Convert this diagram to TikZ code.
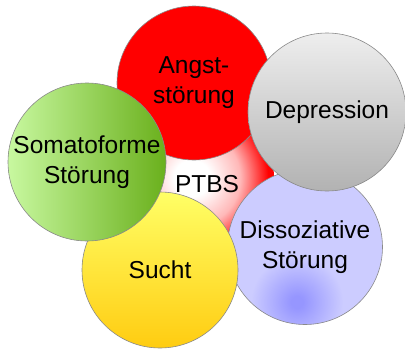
\documentclass[tikz,border=0pt]{standalone}
\usepackage{fontspec}
\setmainfont{Liberation Sans}
\usepackage{tikz}
\usetikzlibrary{positioning}

\definecolor{rimgray}{HTML}{8A8A8A}
\definecolor{angstred}{HTML}{FF0000}
\definecolor{ptbspink}{HTML}{FFB8B8}
\definecolor{deprtop}{HTML}{EEEEEE}
\definecolor{deprbot}{HTML}{B2B2B2}
\definecolor{somaleft}{HTML}{C8F8A0}
\definecolor{somaright}{HTML}{6AB01C}
\definecolor{suchttop}{HTML}{FFFF66}
\definecolor{suchtbot}{HTML}{FFCC11}
\definecolor{dissolight}{HTML}{CCCCFF}
\definecolor{dissodark}{HTML}{9696FF}

\pgfdeclareradialshading{spotglow}{\pgfpoint{0bp}{0bp}}{%
  color(0bp)=(dissodark); color(6bp)=(dissodark); color(46bp)=(dissolight); color(50bp)=(dissolight)}
\pgfdeclareradialshading{ptbsglow}{\pgfpoint{0bp}{0bp}}{%
  color(0bp)=(white); color(18bp)=(white); color(48bp)=(ptbspink); color(76bp)=(angstred); color(90bp)=(angstred)}

\begin{document}
\begin{tikzpicture}[
        x=1pt, y=-1pt,
        every node/.style={align=center, font=\fontsize{24.5}{30}\selectfont},
        bubble/.style={circle, draw=rimgray, line width=0.6pt, inner sep=0pt},
        glow/.style={inner sep=0pt}
    ]
    \useasboundingbox (0,0) rectangle (405,349);

    % PTBS background
    \path[path picture={\node[glow] (ptbsglow) at (path picture bounding box.center) {\pgfuseshading{ptbsglow}};}]
        (192,178) circle (82);

    % Circles
    \node[bubble, fill=angstred, minimum size=154] (angst) at (194,83) {Angst-\\störung};
    \node[bubble, fill=dissolight, minimum size=155,
          path picture={\node[glow] (spot) at ([xshift=-8pt,yshift=-55pt]path picture bounding box.center) {\pgfuseshading{spotglow}};}]
          (disso) at (305,247) {Dissoziative\\Störung};
    \node[bubble, top color=suchttop, bottom color=suchtbot, minimum size=156] (sucht) at (160,270) {Sucht};
    \node[bubble, left color=somaleft, right color=somaright, minimum size=158] (somato) at (87,162) {Somatoforme\\Störung};
    \node[bubble, top color=deprtop, bottom color=deprbot, minimum size=158] (depr) at (327,112) {Depression};

    % Centre
    \node (ptbs) at (207,184) {PTBS};

\end{tikzpicture}
\end{document}
